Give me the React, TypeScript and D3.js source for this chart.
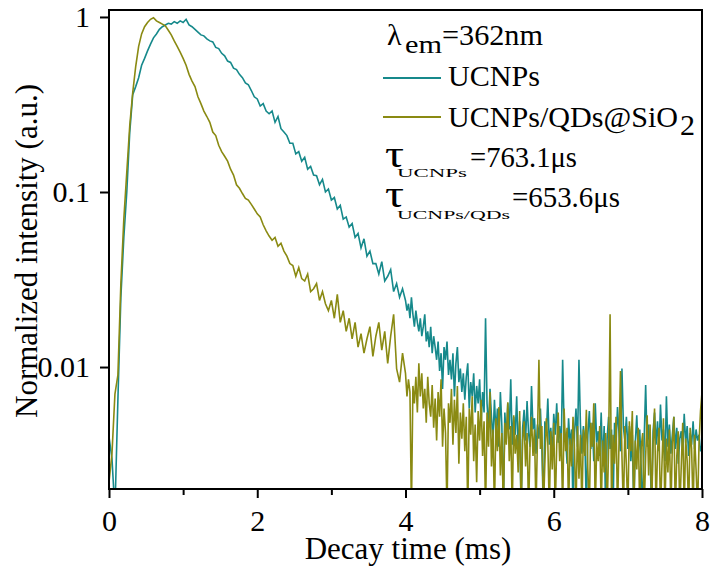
import React, { useEffect, useRef } from 'react';
import * as d3 from 'd3';

// sampling of the traces: coarse before 4 ms, finer in the noisy tail
const HEAD_STEP = 0.04;
const TAIL_START = 4;
const TAIL_STEP = 0.02;

// UCNPs, 0 - 3.96 ms
const ucnpsHead = [
  0.004, 0.003, 0.0015, 0.0065, 0.025, 0.055, 0.1, 0.22, 0.36, 0.4,
  0.45, 0.53, 0.58, 0.64, 0.7, 0.76, 0.8, 0.85, 0.88, 0.9,
  0.92, 0.91, 0.94, 0.92, 0.95, 0.93, 0.97, 0.9, 0.88, 0.85,
  0.82, 0.79, 0.78, 0.75, 0.73, 0.72, 0.67, 0.66, 0.62, 0.6,
  0.56, 0.55, 0.51, 0.5, 0.47, 0.45, 0.42, 0.41, 0.38, 0.35,
  0.34, 0.31, 0.32, 0.29, 0.28, 0.29, 0.25, 0.27, 0.23, 0.22,
  0.21, 0.19, 0.19, 0.165, 0.17, 0.15, 0.158, 0.135, 0.14, 0.125,
  0.124, 0.11, 0.118, 0.1, 0.104, 0.09, 0.093, 0.08, 0.084, 0.07,
  0.072, 0.063, 0.066, 0.055, 0.058, 0.048, 0.054, 0.043, 0.046, 0.039,
  0.039, 0.034, 0.04, 0.031, 0.033, 0.036, 0.027, 0.03, 0.025, 0.028,
];

// UCNPs, 4.00 - 8.00 ms
const ucnpsTail = [
  0.024, 0.021, 0.023, 0.019, 0.025, 0.02, 0.017, 0.021, 0.018, 0.016,
  0.019, 0.015, 0.017, 0.02, 0.014, 0.016, 0.013, 0.017, 0.012, 0.015,
  0.013, 0.011, 0.014, 0.0095, 0.012, 0.0075, 0.013, 0.011, 0.014, 0.009,
  0.011, 0.0085, 0.012, 0.0068, 0.0105, 0.013, 0.0082, 0.0098, 0.0072, 0.0092,
  0.0065, 0.0088, 0.0105, 0.0058, 0.0082, 0.0068, 0.0092, 0.0055, 0.0078, 0.0062,
  0.0085, 0.0048, 0.0072, 0.0055, 0.019, 0.0062, 0.0045, 0.0075, 0.0052, 0.0038,
  0.0065, 0.0042, 0.0058, 0.0035, 0.0072, 0.0046, 0.0015, 0.0055, 0.0039, 0.0062,
  0.0044, 0.0085, 0.0036, 0.0052, 0.0041, 0.0068, 0.0033, 0.0049, 0.0015, 0.0045,
  0.0057, 0.0038, 0.0064, 0.0042, 0.0035, 0.0078, 0.0044, 0.0051, 0.0032, 0.0047,
  0.0039, 0.0058, 0.0034, 0.0015, 0.0049, 0.0042, 0.0066, 0.0036, 0.0045, 0.0031,
  0.0054, 0.0041, 0.0062, 0.0037, 0.0046, 0.0033, 0.011, 0.0045, 0.0039, 0.0028,
  0.0051, 0.0036, 0.0044, 0.0015, 0.0042, 0.0058, 0.0035, 0.011, 0.0047, 0.0032,
  0.0046, 0.0038, 0.0015, 0.0041, 0.0056, 0.0034, 0.0048, 0.0029, 0.0062, 0.0037,
  0.0043, 0.0031, 0.0055, 0.0027, 0.0046, 0.0015, 0.0039, 0.0052, 0.0034, 0.0044,
  0.0015, 0.0048, 0.0036, 0.0059, 0.0042, 0.0033, 0.0098, 0.0045, 0.0038, 0.0052,
  0.0034, 0.0046, 0.0029, 0.0041, 0.0015, 0.0037, 0.0053, 0.0032, 0.0044, 0.0026,
  0.0015, 0.0039, 0.0079, 0.0035, 0.0047, 0.0031, 0.0015, 0.0043, 0.0055, 0.0036,
  0.0049, 0.0033, 0.0061, 0.0038, 0.0044, 0.0029, 0.0068, 0.0035, 0.0047, 0.0032,
  0.0041, 0.0052, 0.0034, 0.0045, 0.0028, 0.0039, 0.0043, 0.0033, 0.0054, 0.0037,
  0.0046, 0.0031, 0.0042, 0.0036, 0.0049, 0.0034, 0.0044, 0.0038, 0.0041, 0.0033,
  0.0036,
];

// UCNPs/QDs@SiO2, 0 - 3.96 ms
const qdsHead = [
  0.0022, 0.0032, 0.007, 0.009, 0.03, 0.07, 0.13, 0.24, 0.37, 0.52,
  0.68, 0.8, 0.88, 0.93, 0.97, 0.99, 0.95, 0.93, 0.91, 0.89,
  0.84, 0.79, 0.73, 0.68, 0.63, 0.58, 0.53, 0.47, 0.43, 0.4,
  0.35, 0.32, 0.29, 0.27, 0.25, 0.22, 0.21, 0.185, 0.17, 0.16,
  0.15, 0.135, 0.125, 0.11, 0.105, 0.098, 0.092, 0.09, 0.085, 0.08,
  0.075, 0.072, 0.065, 0.06, 0.056, 0.053, 0.055, 0.049, 0.051, 0.046,
  0.043, 0.039, 0.038, 0.033, 0.037, 0.032, 0.031, 0.034, 0.027, 0.028,
  0.03, 0.024, 0.027, 0.023, 0.021, 0.024, 0.019, 0.026, 0.018, 0.021,
  0.016, 0.019, 0.0145, 0.018, 0.013, 0.0155, 0.012, 0.0145, 0.017, 0.0115,
  0.015, 0.018, 0.0125, 0.016, 0.0105, 0.015, 0.02, 0.0098, 0.0082, 0.012,
];

// UCNPs/QDs@SiO2, 4.00 - 8.00 ms
const qdsTail = [
  0.0092, 0.0068, 0.0085, 0.0072, 0.0015, 0.0078, 0.0062, 0.0088, 0.0055, 0.0105,
  0.0068, 0.0092, 0.0058, 0.0075, 0.0048, 0.0088, 0.0062, 0.0052, 0.0079, 0.0045,
  0.0066, 0.0038, 0.0072, 0.0052, 0.0085, 0.0035, 0.0058, 0.0042, 0.0015, 0.0062,
  0.0048, 0.0075, 0.0036, 0.0065, 0.0042, 0.0078, 0.0028, 0.0055, 0.0039, 0.0062,
  0.0033, 0.0052, 0.0015, 0.0058, 0.0041, 0.0068, 0.0029, 0.0047, 0.0022, 0.0056,
  0.0038, 0.0065, 0.0031, 0.0049, 0.0015, 0.0055, 0.0035, 0.0072, 0.0027, 0.0044,
  0.0015, 0.0051, 0.0033, 0.0059, 0.0024, 0.0042, 0.0015, 0.0048, 0.0036, 0.0063,
  0.0029, 0.0046, 0.0015, 0.0053, 0.0032, 0.0041, 0.0025, 0.0056, 0.0015, 0.0038,
  0.0049, 0.0027, 0.0042, 0.0015, 0.0035, 0.0052, 0.0031, 0.0044, 0.0015, 0.0039,
  0.011, 0.0034, 0.0046, 0.0015, 0.0028, 0.0051, 0.0037, 0.0015, 0.0043, 0.0026,
  0.0048, 0.0015, 0.0036, 0.0055, 0.0029, 0.0042, 0.0015, 0.0058, 0.0033, 0.0045,
  0.0015, 0.0039, 0.0027, 0.0052, 0.0034, 0.0015, 0.0046, 0.0023, 0.0041, 0.0015,
  0.0044, 0.0031, 0.0057, 0.0026, 0.0015, 0.0048, 0.0035, 0.0062, 0.0015, 0.0037,
  0.0029, 0.0046, 0.0015, 0.0038, 0.0025, 0.0042, 0.0015, 0.0034, 0.02, 0.0015,
  0.0041, 0.0028, 0.0052, 0.0015, 0.0036, 0.0095, 0.0031, 0.0015, 0.0046, 0.0027,
  0.0015, 0.0049, 0.0033, 0.0056, 0.0015, 0.0038, 0.0026, 0.0045, 0.0015, 0.0035,
  0.0042, 0.0015, 0.0031, 0.0053, 0.0024, 0.0047, 0.0015, 0.0036, 0.0058, 0.0015,
  0.0033, 0.0045, 0.0015, 0.0028, 0.0051, 0.0015, 0.0039, 0.0025, 0.0044, 0.0015,
  0.0036, 0.0052, 0.0015, 0.0031, 0.0043, 0.0015, 0.0027, 0.0048, 0.0015, 0.0039,
  0.0029, 0.0015, 0.0045, 0.0034, 0.0015, 0.0041, 0.0026, 0.0015, 0.0037, 0.0056,
  0.0072,
];

const xMajorTicks = [0, 2, 4, 6, 8];
const xMinorTicks = [1, 3, 5, 7];
const yTicks = [1, 0.1, 0.01];

const TEAL = '#16898b';
const OLIVE = '#8a8a12';
const FONT = "'Liberation Serif', 'Times New Roman', serif";

const toPoints = (head: number[], tail: number[]): [number, number][] => [
  ...head.map((v, i) => [i * HEAD_STEP, v] as [number, number]),
  ...tail.map((v, j) => [TAIL_START + j * TAIL_STEP, v] as [number, number]),
];

const App = () => {
  const ref = useRef<SVGSVGElement>(null);

  useEffect(() => {
    const svg = d3.select(ref.current);
    svg.selectAll('*').remove();

    const left = 109, right = 702, top = 10, bottom = 489;
    const x = d3.scaleLinear().domain([0, 8]).range([left, right]);
    const y = d3.scaleLog().domain([0.00201, 1.096]).range([bottom, top]);

    svg
      .append('defs')
      .append('clipPath')
      .attr('id', 'plot-clip')
      .append('rect')
      .attr('x', left)
      .attr('y', top)
      .attr('width', right - left)
      .attr('height', bottom - top);

    const line = d3
      .line<[number, number]>()
      .x((d) => x(d[0]))
      .y((d) => y(d[1]));

    const plot = svg.append('g').attr('clip-path', 'url(#plot-clip)');
    [
      { pts: toPoints(ucnpsHead, ucnpsTail), color: TEAL },
      { pts: toPoints(qdsHead, qdsTail), color: OLIVE },
    ].forEach((s) => {
      plot
        .append('path')
        .attr('d', line(s.pts))
        .attr('fill', 'none')
        .attr('stroke', s.color)
        .attr('stroke-width', 1.6);
    });

    // axes
    const xAxis = svg
      .append('g')
      .attr('transform', `translate(0,${bottom})`)
      .call(d3.axisBottom(x).tickValues(xMajorTicks).tickSize(9).tickPadding(12).tickFormat(d3.format('d')));
    svg
      .append('g')
      .attr('transform', `translate(0,${bottom})`)
      .call(d3.axisBottom(x).tickValues(xMinorTicks).tickSize(6).tickFormat(() => ''))
      .select('.domain')
      .remove();
    const yAxis = svg
      .append('g')
      .attr('transform', `translate(${left},0)`)
      .call(d3.axisLeft(y).tickValues(yTicks).tickSize(9).tickPadding(10).tickFormat((d) => String(d)));

    [xAxis, yAxis].forEach((g) => {
      g.select('.domain').remove();
      g.attr('font-family', FONT).attr('font-size', 30);
      g.selectAll('text').attr('fill', '#000');
    });
    svg.selectAll('.tick line').attr('stroke', '#000').attr('stroke-width', 2);

    svg
      .append('rect')
      .attr('x', left)
      .attr('y', top)
      .attr('width', right - left)
      .attr('height', bottom - top)
      .attr('fill', 'none')
      .attr('stroke', '#000')
      .attr('stroke-width', 2);

    // axis titles
    svg
      .append('text')
      .attr('x', 408)
      .attr('y', 559)
      .attr('text-anchor', 'middle')
      .attr('font-size', 31)
      .text('Decay time (ms)');
    svg
      .append('text')
      .attr('transform', 'translate(37,251) rotate(-90)')
      .attr('text-anchor', 'middle')
      .attr('font-size', 31)
      .text('Normalized intensity (a.u.)');

    // legend / annotations
    const txt = (tx: number, ty: number, s: string, size: number, len?: number) => {
      const t = svg.append('text').attr('x', tx).attr('y', ty).attr('font-size', size).text(s);
      if (len) t.attr('textLength', len).attr('lengthAdjust', 'spacingAndGlyphs');
      return t;
    };

    txt(387, 45, 'λ', 30);
    txt(405, 53, 'em', 26, 37);
    txt(442, 45, '=362nm', 30, 101);

    svg.append('line').attr('x1', 383).attr('x2', 441).attr('y1', 78).attr('y2', 78).attr('stroke', TEAL).attr('stroke-width', 2);
    txt(448, 86, 'UCNPs', 30, 92);

    svg.append('line').attr('x1', 383).attr('x2', 441).attr('y1', 117).attr('y2', 117).attr('stroke', OLIVE).attr('stroke-width', 2);
    txt(448, 127, 'UCNPs/QDs@SiO', 30, 230);
    txt(680, 135, '2', 30);

    txt(385, 167, 'τ', 38, 19);
    txt(397, 177, 'UCNPs', 13, 70);
    txt(470, 167, '=763.1μs', 30, 107);

    txt(385, 207, 'τ', 38, 19);
    txt(397, 219, 'UCNPs/QDs', 13, 113);
    txt(512, 207, '=653.6μs', 30, 108);
  }, []);

  return (
    <svg
      ref={ref}
      width={711}
      height={569}
      fontFamily={FONT}
      style={{ position: 'absolute', left: 0, top: 0, background: '#fff' }}
    />
  );
};

export default App;
